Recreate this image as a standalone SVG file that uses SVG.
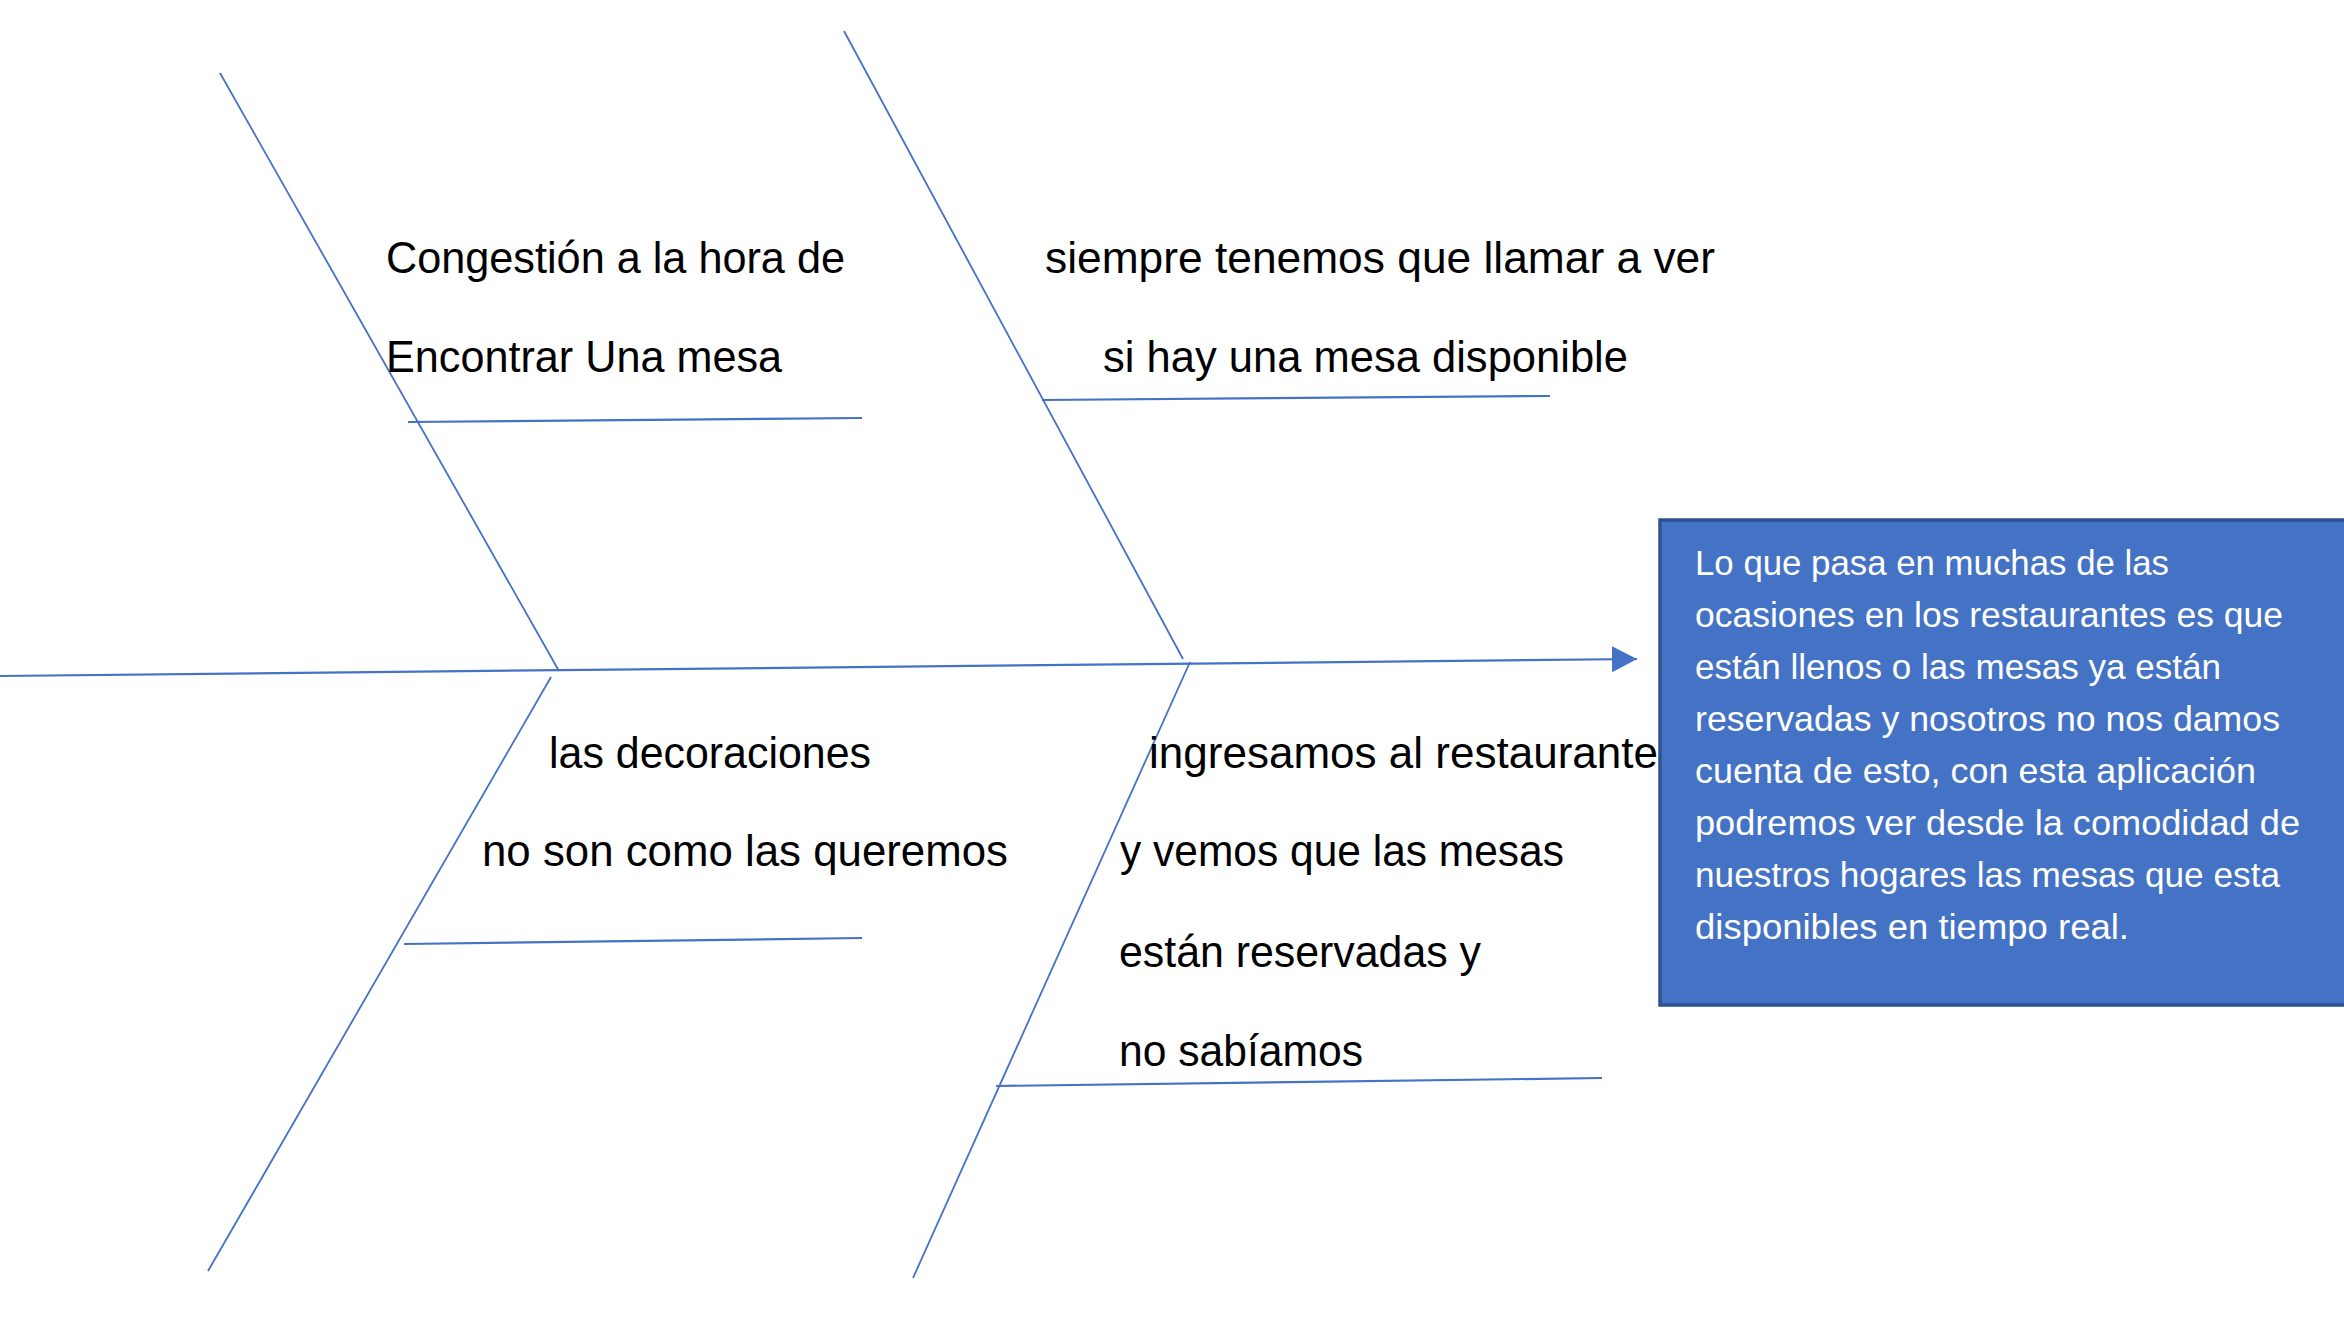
<svg xmlns="http://www.w3.org/2000/svg" width="2344" height="1319" viewBox="0 0 2344 1319">
<style>
.bone{stroke:#4472C4;stroke-width:1.8;fill:none;}
.rib{stroke:#4472C4;stroke-width:2.2;fill:none;}
.lbl{font-family:"Liberation Sans",Arial,sans-serif;font-size:43.5px;fill:#000000;}
.box{fill:#4472C4;stroke:#2F528F;stroke-width:3.5;}
.boxtxt{font-family:"Liberation Sans",Arial,sans-serif;font-size:35px;fill:#FFFFFF;}
</style>
<defs>
<marker id="arrow" markerUnits="userSpaceOnUse" markerWidth="26" markerHeight="27" refX="25" refY="13" orient="auto">
<path d="M0,0 L25,13 L0,26 Z" fill="#4472C4"/>
</marker>
</defs>
<rect width="2344" height="1319" fill="#FFFFFF"/>
<g id="connectors">
<line class="rib" x1="0" y1="676" x2="1637" y2="659" marker-end="url(#arrow)"/>
<line class="bone" x1="220" y1="73" x2="559" y2="671"/>
<line class="rib" x1="408" y1="422" x2="862" y2="418"/>
<line class="bone" x1="844" y1="31" x2="1183" y2="659"/>
<line class="rib" x1="1042" y1="400" x2="1550" y2="396"/>
<line class="bone" x1="551" y1="677" x2="208" y2="1271"/>
<line class="rib" x1="404" y1="944" x2="862" y2="938"/>
<line class="bone" x1="1190" y1="662" x2="913" y2="1278"/>
<line class="rib" x1="996" y1="1086" x2="1602" y2="1078"/>
</g>
<g id="cause-congestion">
<text class="lbl" x="386" y="273" textLength="459" lengthAdjust="spacingAndGlyphs">Congestión a la hora de</text>
<text class="lbl" x="386" y="372" textLength="396" lengthAdjust="spacingAndGlyphs">Encontrar Una mesa</text>
</g>
<g id="cause-llamar">
<text class="lbl" x="1045" y="273" textLength="670" lengthAdjust="spacingAndGlyphs">siempre tenemos que llamar a ver</text>
<text class="lbl" x="1103" y="372" textLength="525" lengthAdjust="spacingAndGlyphs">si hay una mesa disponible</text>
</g>
<g id="cause-decoraciones">
<text class="lbl" x="549" y="768" textLength="322" lengthAdjust="spacingAndGlyphs">las decoraciones</text>
<text class="lbl" x="482" y="866" textLength="526" lengthAdjust="spacingAndGlyphs">no son como las queremos</text>
</g>
<g id="cause-reservadas">
<text class="lbl" x="1149" y="768" textLength="509" lengthAdjust="spacingAndGlyphs">ingresamos al restaurante</text>
<text class="lbl" x="1120" y="866" textLength="444" lengthAdjust="spacingAndGlyphs">y vemos que las mesas</text>
<text class="lbl" x="1119" y="967" textLength="362" lengthAdjust="spacingAndGlyphs">están reservadas y</text>
<text class="lbl" x="1119" y="1066" textLength="244" lengthAdjust="spacingAndGlyphs">no sabíamos</text>
</g>
<g id="effect-box">
<rect class="box" x="1660" y="520" width="700" height="485"/>
<text class="boxtxt" x="1695" y="575" textLength="474" lengthAdjust="spacingAndGlyphs">Lo que pasa en muchas de las</text>
<text class="boxtxt" x="1695" y="627" textLength="588" lengthAdjust="spacingAndGlyphs">ocasiones en los restaurantes es que</text>
<text class="boxtxt" x="1695" y="679" textLength="526" lengthAdjust="spacingAndGlyphs">están llenos o las mesas ya están</text>
<text class="boxtxt" x="1695" y="731" textLength="585" lengthAdjust="spacingAndGlyphs">reservadas y nosotros no nos damos</text>
<text class="boxtxt" x="1695" y="783" textLength="561" lengthAdjust="spacingAndGlyphs">cuenta de esto, con esta aplicación</text>
<text class="boxtxt" x="1695" y="835" textLength="605" lengthAdjust="spacingAndGlyphs">podremos ver desde la comodidad de</text>
<text class="boxtxt" x="1695" y="887" textLength="585" lengthAdjust="spacingAndGlyphs">nuestros hogares las mesas que esta</text>
<text class="boxtxt" x="1695" y="939" textLength="434" lengthAdjust="spacingAndGlyphs">disponibles en tiempo real.</text>
</g>
</svg>
